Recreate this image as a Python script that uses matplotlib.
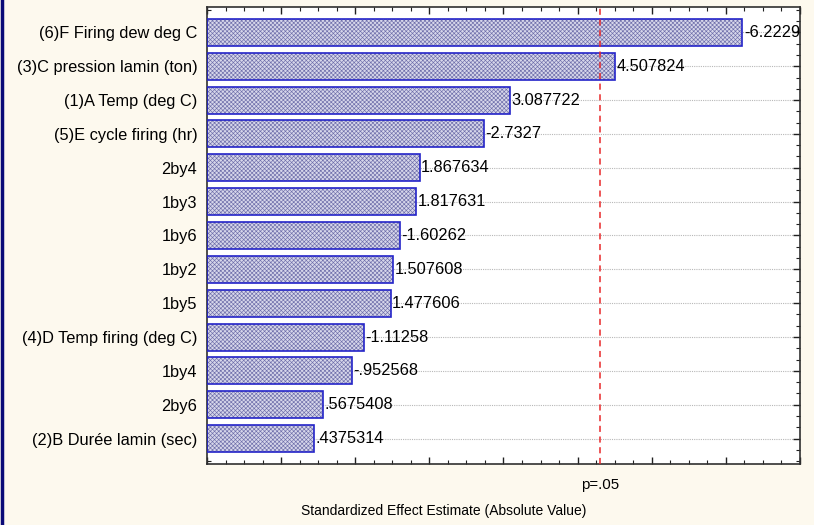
import matplotlib.pyplot as plt
from matplotlib.ticker import MultipleLocator
from matplotlib.lines import Line2D

plt.rcParams['font.family'] = ['Liberation Sans', 'DejaVu Sans']

effects = ['(6)F Firing dew deg C', '(3)C pression lamin (ton)', '(1)A Temp (deg C)',
           '(5)E cycle firing (hr)', '2by4', '1by3', '1by6', '1by2', '1by5',
           '(4)D Temp firing (deg C)', '1by4', '2by6', '(2)B Durée lamin (sec)']
estimates = [-6.2229, 4.507824, 3.087722, -2.7327, 1.867634, 1.817631, -1.60262,
             1.507608, 1.477606, -1.11258, -0.952568, 0.5675408, 0.4375314]
p_crit = 4.303  # t(.975, 2)
x_min, x_max = -1, 7
fs = 11.8


def fmt(v):
    s = f"{v:.7g}"
    return s.replace('0.', '.', 1) if s.lstrip('-').startswith('0.') else s


fig = plt.figure(figsize=(8.14, 5.25), dpi=100, facecolor='#fdf9ee')
ax = fig.add_axes([0.2543, 0.1162, 0.7285, 0.8705])
ax.set_facecolor('white')

y = list(range(len(effects)))
widths = [abs(v) - x_min for v in estimates]

for yy in y:
    ax.axhline(yy, color='#b8b8b8', lw=0.8, ls=(0, (1, 1)), zorder=0)

plt.rcParams['hatch.linewidth'] = 0.45
ax.barh(y, widths, left=x_min, height=0.8, color='#d6d6ea', edgecolor='#6e6eaa',
        hatch='xxxxxxxx', lw=0, zorder=2)
ax.barh(y, widths, left=x_min, height=0.8, fill=False, edgecolor='#2424c8',
        lw=1.2, zorder=3)

for yy, v in zip(y, estimates):
    ax.text(abs(v) + 0.02, yy, fmt(v), va='center', ha='left', fontsize=fs, zorder=4)

ax.axvline(p_crit, color='#e8282a', lw=1.1, ls=(0, (4, 3)), zorder=4)
ax.text(p_crit, -0.031, 'p=.05', transform=ax.get_xaxis_transform(),
        ha='center', va='top', fontsize=10.8)

ax.set_xlim(x_min, x_max)
ax.set_ylim(len(effects) - 0.25, -0.75)
ax.set_yticks(y)
ax.set_yticklabels(effects, fontsize=fs)
ax.yaxis.set_minor_locator(MultipleLocator(1 / 3))
ax.xaxis.set_major_locator(MultipleLocator(1))
ax.xaxis.set_minor_locator(MultipleLocator(0.25))
ax.tick_params(axis='x', which='both', labelbottom=False)
ax.tick_params(which='both', direction='in', top=True, right=True, color='#202020')
ax.tick_params(which='major', length=5, width=1)
ax.tick_params(which='minor', length=3, width=0.8)
ax.tick_params(axis='y', which='major', pad=7)
for s in ax.spines.values():
    s.set_color('#303030')
    s.set_linewidth(1.2)

fig.text(0.5455, 0.0267, 'Standardized Effect Estimate (Absolute Value)',
         ha='center', va='center', fontsize=10)

fig.add_artist(Line2D([0.002, 0.002], [0, 1], transform=fig.transFigure,
                      color='#0a0a78', lw=2.5))

fig.savefig('out.png', dpi=100, facecolor=fig.get_facecolor())
